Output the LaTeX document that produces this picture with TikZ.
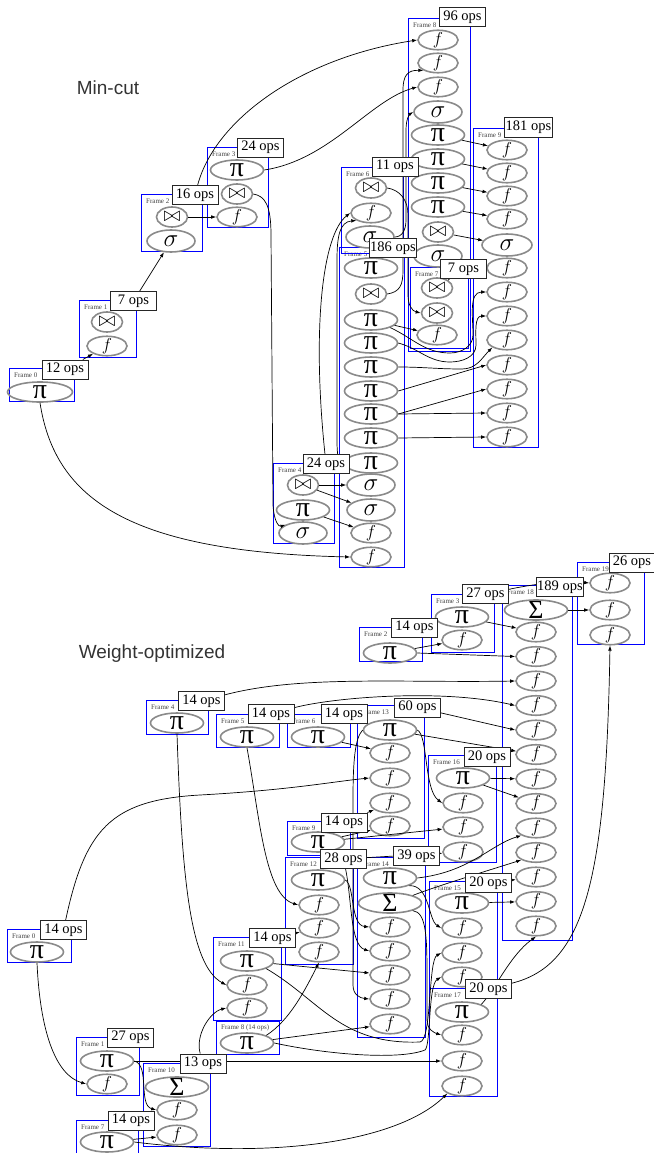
\documentclass[tikz,border=0pt]{standalone}
\usepackage{fontspec}
\setmainfont{Liberation Serif}
\setsansfont{Liberation Sans}
\usetikzlibrary{shapes.geometric,arrows.meta}
\pgfdeclarelayer{fg}
\pgfsetlayers{main,fg}
\definecolor{opgray}{HTML}{8A8A8A}
\newcommand\PI{π}
\newcommand\SIG{$\sigma$}
\newcommand\FF{$f$}
\newcommand\BT{$\bowtie$}
\newcommand\SUM{Σ}
\tikzset{
 op/.style={ellipse, draw=opgray, line width=1.6pt, inner sep=0pt, inner ysep=-4pt},
 pn/.style={op, minimum width=53pt, minimum height=20pt, font=\fontsize{28}{28}\selectfont},
 fn/.style={op, minimum width=40pt, minimum height=19.5pt, font=\fontsize{17}{17}\selectfont},
 sn/.style={op, minimum width=48pt, minimum height=22pt, font=\fontsize{28}{28}\selectfont},
 jn/.style={op, minimum width=31pt, minimum height=20pt, font=\fontsize{20}{20}\selectfont},
 Sn/.style={op, minimum width=63pt, minimum height=20pt, font=\fontsize{26}{26}\selectfont},
 frm/.style={draw=blue, line width=0.8pt},
 ftitle/.style={anchor=west, inner sep=0pt, font=\fontsize{7}{7}\selectfont, text=black!75},
 opsl/.style={draw=black!85, line width=1pt, fill=white, minimum width=46pt, minimum height=19pt, inner sep=1pt, font=\fontsize{14.5}{14.5}\selectfont},
 arr/.style={-{Latex[length=5pt,width=3.6pt]}, line width=0.7pt},
 ln/.style={line width=0.7pt},
 sect/.style={font=\sffamily\fontsize{19}{19}\selectfont, text=black!80},
}
\newcommand\mkframe[4]{\draw[frm] (#1) rectangle (#2); \path (#1) ++(5,7) node[ftitle] (#3) {#4};}
\begin{document}
\begin{tikzpicture}[x=1pt,y=-1pt]
\useasboundingbox (0,0) rectangle (653,1153);
\node[sect] (t1) at (108,88) {Min-cut};
\node[sect] (t2) at (152,654) {Weight-optimized};
% ---------------- Min-cut frames
\mkframe{9,368}{74,401}{ft0}{Frame 0}
\mkframe{79,300}{136,357}{ft1}{Frame 1}
\mkframe{141,194}{202,251}{ft2}{Frame 2}
\mkframe{207,147}{268,227}{ft3}{Frame 3}
\mkframe{273,463}{334,543}{ft4}{Frame 4}
\mkframe{339,247}{404,567}{ft5}{Frame 5}
\mkframe{341,167}{403,253}{ft6}{Frame 6}
\mkframe{410,267}{468,348}{ft7}{Frame 7}
\mkframe{408,18}{470,351}{ft8}{Frame 8}
\mkframe{473,128}{538,447}{ft9}{Frame 9}
% nodes
\node[pn, minimum width=65pt] (a0p) at (40,392) {\PI};
\node[jn] (a1j) at (107,322) {\BT};
\node[fn] (a1f) at (107,346) {\FF};
\node[jn] (a2j) at (172,217) {\BT};
\node[sn] (a2s) at (171,241) {\SIG};
\node[pn] (a3p) at (237,170) {\PI};
\node[jn] (a3j) at (237,194) {\BT};
\node[fn] (a3f) at (237,217) {\FF};
\node[jn] (a4j) at (303,485) {\BT};
\node[pn] (a4p) at (303,510) {\PI};
\node[sn] (a4s) at (303,533) {\SIG};
\node[pn] (a5n1) at (371,268) {\PI};
\node[jn] (a5n2) at (371,294) {\BT};
\node[pn] (a5n3) at (371,320) {\PI};
\node[pn] (a5n4) at (371,343) {\PI};
\node[pn] (a5n5) at (371,367) {\PI};
\node[pn] (a5n6) at (371,391) {\PI};
\node[pn] (a5n7) at (371,414) {\PI};
\node[pn] (a5n8) at (371,438) {\PI};
\node[pn] (a5n9) at (371,463) {\PI};
\node[sn] (a5n10) at (371,485) {\SIG};
\node[sn] (a5n11) at (371,510) {\SIG};
\node[fn] (a5n12) at (371,533) {\FF};
\node[fn] (a5n13) at (371,557) {\FF};
\node[jn] (a6j) at (371,188) {\BT};
\node[fn] (a6f) at (371,213) {\FF};
\node[sn] (a6s) at (370,237) {\SIG};
\node[jn] (a7j1) at (437,288) {\BT};
\node[jn] (a7j2) at (437,313) {\BT};
\node[fn] (a7f) at (437,335) {\FF};
\node[fn] (a8n1) at (438,40) {\FF};
\node[fn] (a8n2) at (438,63) {\FF};
\node[fn] (a8n3) at (438,87) {\FF};
\node[sn] (a8n4) at (438,112) {\SIG};
\node[pn] (a8n5) at (438,135) {\PI};
\node[pn] (a8n6) at (438,159) {\PI};
\node[pn] (a8n7) at (438,183) {\PI};
\node[pn] (a8n8) at (438,207) {\PI};
\node[jn] (a8n9) at (438,232) {\BT};
\node[sn] (a8n10) at (438,256) {\SIG};
\node[fn] (a9n1) at (507,150) {\FF};
\node[fn] (a9n2) at (507,173) {\FF};
\node[fn] (a9n3) at (507,196) {\FF};
\node[fn] (a9n4) at (507,219) {\FF};
\node[sn, minimum width=50pt] (a9n5) at (507,245) {\SIG};
\node[fn] (a9n6) at (507,268) {\FF};
\node[fn] (a9n7) at (507,292) {\FF};
\node[fn] (a9n8) at (507,316) {\FF};
\node[fn] (a9n9) at (507,340) {\FF};
\node[fn] (a9n10) at (507,365) {\FF};
\node[fn] (a9n11) at (507,389) {\FF};
\node[fn] (a9n12) at (507,413) {\FF};
\node[fn] (a9n13) at (507,437) {\FF};
% ---------------- Weight-optimized frames
\mkframe{7,929}{71,962}{fb0}{Frame 0}
\mkframe{76,1037}{139,1095}{fb1}{Frame 1}
\mkframe{359,627}{422,661}{fb2}{Frame 2}
\mkframe{431,594}{494,652}{fb3}{Frame 3}
\mkframe{146,700}{208,734}{fb4}{Frame 4}
\mkframe{216,714}{279,747}{fb5}{Frame 5}
\mkframe{287,714}{350,747}{fb6}{Frame 6}
\mkframe{76,1120}{138,1157}{fb7}{Frame 7}
\mkframe{216,1021}{279,1054}{fb8}{Frame 8 (14 ops)}
\mkframe{287,821}{350,855}{fb9}{Frame 9}
\mkframe{143,1063}{210,1146}{fb10}{Frame 10}
\mkframe{213,937}{281,1020}{fb11}{Frame 11}
\mkframe{285,857}{353,964}{fb12}{Frame 12}
\mkframe{357,705}{424,838}{fb13}{Frame 13}
\mkframe{357,857}{425,1037}{fb14}{Frame 14}
\mkframe{429,881}{497,988}{fb15}{Frame 15}
\mkframe{428,755}{496,862}{fb16}{Frame 16}
\mkframe{429,988}{497,1096}{fb17}{Frame 17}
\mkframe{502,585}{572,940}{fb18}{Frame 18}
\mkframe{577,562}{644,644}{fb19}{Frame 19}
\node[pn] (b0p) at (37,952) {\PI};
\node[pn] (b1p) at (107,1061) {\PI};
\node[fn] (b1f) at (107,1084) {\FF};
\node[pn] (b2p) at (390,653) {\PI};
\node[pn] (b3p) at (462,617) {\PI};
\node[fn] (b3f) at (462,640) {\FF};
\node[pn] (b4p) at (177,723) {\PI};
\node[pn] (b5p) at (247,737) {\PI};
\node[pn] (b6p) at (318,737) {\PI};
\node[pn] (b7p) at (107,1142) {\PI};
\node[pn] (b8p) at (247,1043) {\PI};
\node[pn] (b9p) at (318,842) {\PI};
\node[Sn] (b10S) at (177,1087) {\SUM};
\node[fn] (b10f1) at (177,1110) {\FF};
\node[fn] (b10f2) at (177,1135) {\FF};
\node[pn] (b11p) at (247,961) {\PI};
\node[fn] (b11f1) at (247,985) {\FF};
\node[fn] (b11f2) at (247,1008) {\FF};
\node[pn] (b12p) at (318,880) {\PI};
\node[fn] (b12f1) at (319,905) {\FF};
\node[fn] (b12f2) at (319,928) {\FF};
\node[fn] (b12f3) at (319,952) {\FF};
\node[pn] (b13p) at (390,730) {\PI};
\node[fn] (b13f1) at (390,753) {\FF};
\node[fn] (b13f2) at (390,778) {\FF};
\node[fn] (b13f3) at (390,803) {\FF};
\node[fn] (b13f4) at (390,826) {\FF};
\node[pn] (b14p) at (390,878) {\PI};
\node[Sn] (b14S) at (390,903) {\SUM};
\node[fn] (b14f1) at (390,927) {\FF};
\node[fn] (b14f2) at (390,951) {\FF};
\node[fn] (b14f3) at (390,975) {\FF};
\node[fn] (b14f4) at (390,999) {\FF};
\node[fn] (b14f5) at (390,1024) {\FF};
\node[pn] (b15p) at (462,903) {\PI};
\node[fn] (b15f1) at (462,928) {\FF};
\node[fn] (b15f2) at (462,953) {\FF};
\node[fn] (b15f3) at (462,977) {\FF};
\node[pn] (b16p) at (463,778) {\PI};
\node[fn] (b16f1) at (463,803) {\FF};
\node[fn] (b16f2) at (463,827) {\FF};
\node[fn] (b16f3) at (463,852) {\FF};
\node[pn] (b17p) at (462,1012) {\PI};
\node[fn] (b17f1) at (462,1035) {\FF};
\node[fn] (b17f2) at (462,1061) {\FF};
\node[fn] (b17f3) at (462,1086) {\FF};
\node[Sn] (b18S) at (536,610) {\SUM};
\foreach \k in {1,...,13} {\pgfmathsetmacro\yy{632+24.5*(\k-1)} \node[fn] (b18f\k) at (536,\yy) {\FF};}
\node[fn] (b19f1) at (610,583) {\FF};
\node[fn] (b19f2) at (610,610) {\FF};
\node[fn] (b19f3) at (610,635) {\FF};
% ---------------- labels (foreground)
\begin{pgfonlayer}{fg}
\node[opsl] (l0) at (65,369.5) {12 ops};
\node[opsl] (l1) at (133.5,301) {7 ops};
\node[opsl] (l2) at (195,195) {16 ops};
\node[opsl] (l3) at (260.5,147.5) {24 ops};
\node[opsl] (l4) at (326,464) {24 ops};
\node[opsl] (l5) at (393,248) {186 ops};
\node[opsl] (l6) at (395,166.5) {11 ops};
\node[opsl] (l7) at (463.5,269) {7 ops};
\node[opsl] (l8) at (462.5,17.5) {96 ops};
\node[opsl] (l9) at (528.5,127.5) {181 ops};
\node[opsl] (lb0) at (63.5,930) {14 ops};
\node[opsl] (lb1) at (130.5,1037.5) {27 ops};
\node[opsl] (lb2) at (414.5,627.5) {14 ops};
\node[opsl] (lb3) at (485.5,594) {27 ops};
\node[opsl] (lb4) at (201.5,701) {14 ops};
\node[opsl] (lb5) at (271,714) {14 ops};
\node[opsl] (lb6) at (344,714) {14 ops};
\node[opsl] (lb7) at (131,1120.5) {14 ops};
\node[opsl] (lb9) at (344,822.5) {14 ops};
\node[opsl] (lb10) at (203,1063.5) {13 ops};
\node[opsl] (lb11) at (272.5,938) {14 ops};
\node[opsl] (lb12) at (343.5,859) {28 ops};
\node[opsl] (lb13) at (417.5,707.5) {60 ops};
\node[opsl] (lb14) at (416.5,856) {39 ops};
\node[opsl] (lb15) at (488.5,883) {20 ops};
\node[opsl] (lb16) at (487,757) {20 ops};
\node[opsl] (lb17) at (488.5,989) {20 ops};
\node[opsl] (lb18) at (560,587) {189 ops};
\node[opsl] (lb19) at (632,562.5) {26 ops};
\end{pgfonlayer}
% ---------------- Min-cut connectors
\draw[arr] (l0) -- (a1f);
\draw[arr] (l1) -- (a2s);
\draw[arr] (a2j) -- (a3f);
\draw[arr] (l2) .. controls (215,120) and (300,58) .. (a8n1.west);
\draw[arr] (a3p.east) .. controls (330,160) and (370,100) .. (a8n3.west);
\draw[arr] (a3j.east) .. controls (265,196) and (271,205) .. (271,235) -- (273,505) .. controls (274,522) and (279,527) .. (a4s.north west);
\draw[arr] (a0p.south) .. controls (55,500) and (130,552) .. (a5n13.west);
\draw[arr] (a4j) -- (a5n10);
\draw[arr] (a4j) -- (a5n11);
\draw[arr] (a4p) -- (a5n12);
\draw[arr] (l4) .. controls (312,330) and (322,235) .. (a6f.west);
\draw[arr] (a5n9.west) .. controls (338,463) and (337,455) .. (337,440) -- (337,260) .. controls (337,235) and (340,222) .. (a6f.south west);
\draw[arr] (a5n2.east) .. controls (400,292) and (403,285) .. (403,270) -- (403,90) .. controls (403,75) and (408,70) .. (a8n2.south west);
\draw[arr] (a6s.east) .. controls (402,237) and (406,230) .. (406,220) -- (406,130) .. controls (406,118) and (410,114) .. (a8n4.west);
\draw[arr] (a6j.east) .. controls (400,190) and (408,200) .. (408,215) -- (408,295) .. controls (408,305) and (412,311) .. (a7j2.west);
\draw[arr] (a8n5) -- (a9n1);
\draw[arr] (a8n6) -- (a9n2);
\draw[arr] (a8n7) -- (a9n3);
\draw[arr] (a8n8) -- (a9n4);
\draw[arr] (a8n9) -- (a9n5);
\draw[ln] (a7j1) -- (l7);
\draw[ln] (a5n1) -- (l5);
\draw[arr] (a5n3) -- (a7f);
\draw[arr] (a5n3.south east) to[out=-25,in=180] (450,353) to[out=0,in=-90] (473,335) to[out=90,in=180] (a9n7.west);
\draw[arr] (a5n4.east) to[out=-15,in=180] (450,362) to[out=0,in=-90] (476,345) to[out=90,in=180] (a9n8.west);
\draw[arr] (a5n5.east) to[out=0,in=180] (462,369) to[out=0,in=-135] (a9n9.south west);
\draw[arr] (a5n6.east) -- (a9n10.west);
\draw[arr] (a5n7.east) -- (a9n11.west);
\draw[arr] (a5n7.east) -- (a9n12.west);
\draw[arr] (a5n8.east) -- (a9n13.west);
% ---------------- Weight-optimized connectors
\draw[arr] (b0p.south) .. controls (40,1030) and (55,1075) .. (b1f.west);
\draw[arr] (lb0) .. controls (85,830) and (110,800) .. (200,795) .. controls (290,790) and (330,782) .. (b13f2.west);
\draw[arr] (b1p.east) .. controls (150,1065) and (138,1105) .. (b10f1.west);
\draw[arr] (b1p.east) -- (b17f2.west);
\draw[arr] (b7p) -- (b10f2);
\draw[arr] (b7p.east) .. controls (280,1160) and (400,1140) .. (b17f3.south west);
\draw[arr] (lb10) .. controls (195,1035) and (210,1012) .. (b11f2.west);
\draw[arr] (b4p.south) .. controls (182,880) and (190,965) .. (b11f1.west);
\draw[arr] (b5p.south) .. controls (260,820) and (265,895) .. (b12f1.west);
\draw[arr] (b6p) -- (b13f1);
\draw[arr] (lb4) .. controls (300,675) and (400,683) .. (b18f3.west);
\draw[arr] (lb5) .. controls (330,698) and (440,688) .. (b18f4.west);
\draw[arr] (lb13) -- (b18f5.west);
\draw[arr] (b13p) -- (b18f6);
\draw[arr] (b16p) -- (b18f7);
\draw[arr] (b16p) -- (b18f8);
\draw[arr] (b14p.east) .. controls (470,872) and (490,845) .. (b18f9.south west);
\draw[arr] (b14S.north east) .. controls (440,885) and (490,870) .. (b18f10.south west);
\draw[arr] (lb15) -- (b18f11);
\draw[arr] (b15p) -- (b18f12);
\draw[arr] (b17p.north east) .. controls (495,990) and (510,955) .. (b18f13.south);
\draw[arr] (b18S) -- (b19f2);
\draw[arr] (lb3) .. controls (530,585) and (560,580) .. (b19f1.west);
\draw[arr] (lb17) .. controls (585,965) and (606,880) .. (b19f3.south);
\draw[arr] (b2p) -- (b3f);
\draw[arr] (b2p.east) -- (b18f2.west);
\draw[arr] (b3p) -- (b18f1);
\draw[arr] (b13p.east) .. controls (428,735) and (424,790) .. (b16f1.west);
\draw[arr] (b13p.west) .. controls (355,738) and (353,760) .. (353,800) -- (353,985) .. controls (353,995) and (360,998) .. (b14f4.west);
\draw[arr] (lb12) .. controls (352,900) and (350,945) .. (b14f2.west);
\draw[arr] (lb9) -- (b13f3);
\draw[arr] (b9p) -- (b13f4);
\draw[arr] (b9p) -- (b16f2);
\draw[arr] (lb12) -- (b16f3);
\draw[arr] (b12p.east) .. controls (355,885) and (350,925) .. (b14f1.west);
\draw[arr] (lb11) -- (b12f2);
\draw[arr] (b8p.north east) .. controls (290,1020) and (305,990) .. (b12f3.south);
\draw[arr] (b11p) -- (b14f3);
\draw[arr] (b11p.south east) .. controls (320,1000) and (340,1045) .. (420,1042) .. controls (432,1040) and (428,960) .. (b15f2.west);
\draw[arr] (b8p) -- (b14f5);
\draw[arr] (b8p.east) .. controls (330,1055) and (400,1060) .. (425,1050) .. controls (431,1045) and (428,985) .. (b15f3.west);
\draw[arr] (b14p.south east) .. controls (430,885) and (428,920) .. (b15f1.west);
\draw[arr] (b14S.south east) .. controls (427,912) and (427,940) .. (427,980) -- (427,1020) .. controls (427,1030) and (435,1033) .. (b17f1.west);
\end{tikzpicture}
\end{document}
